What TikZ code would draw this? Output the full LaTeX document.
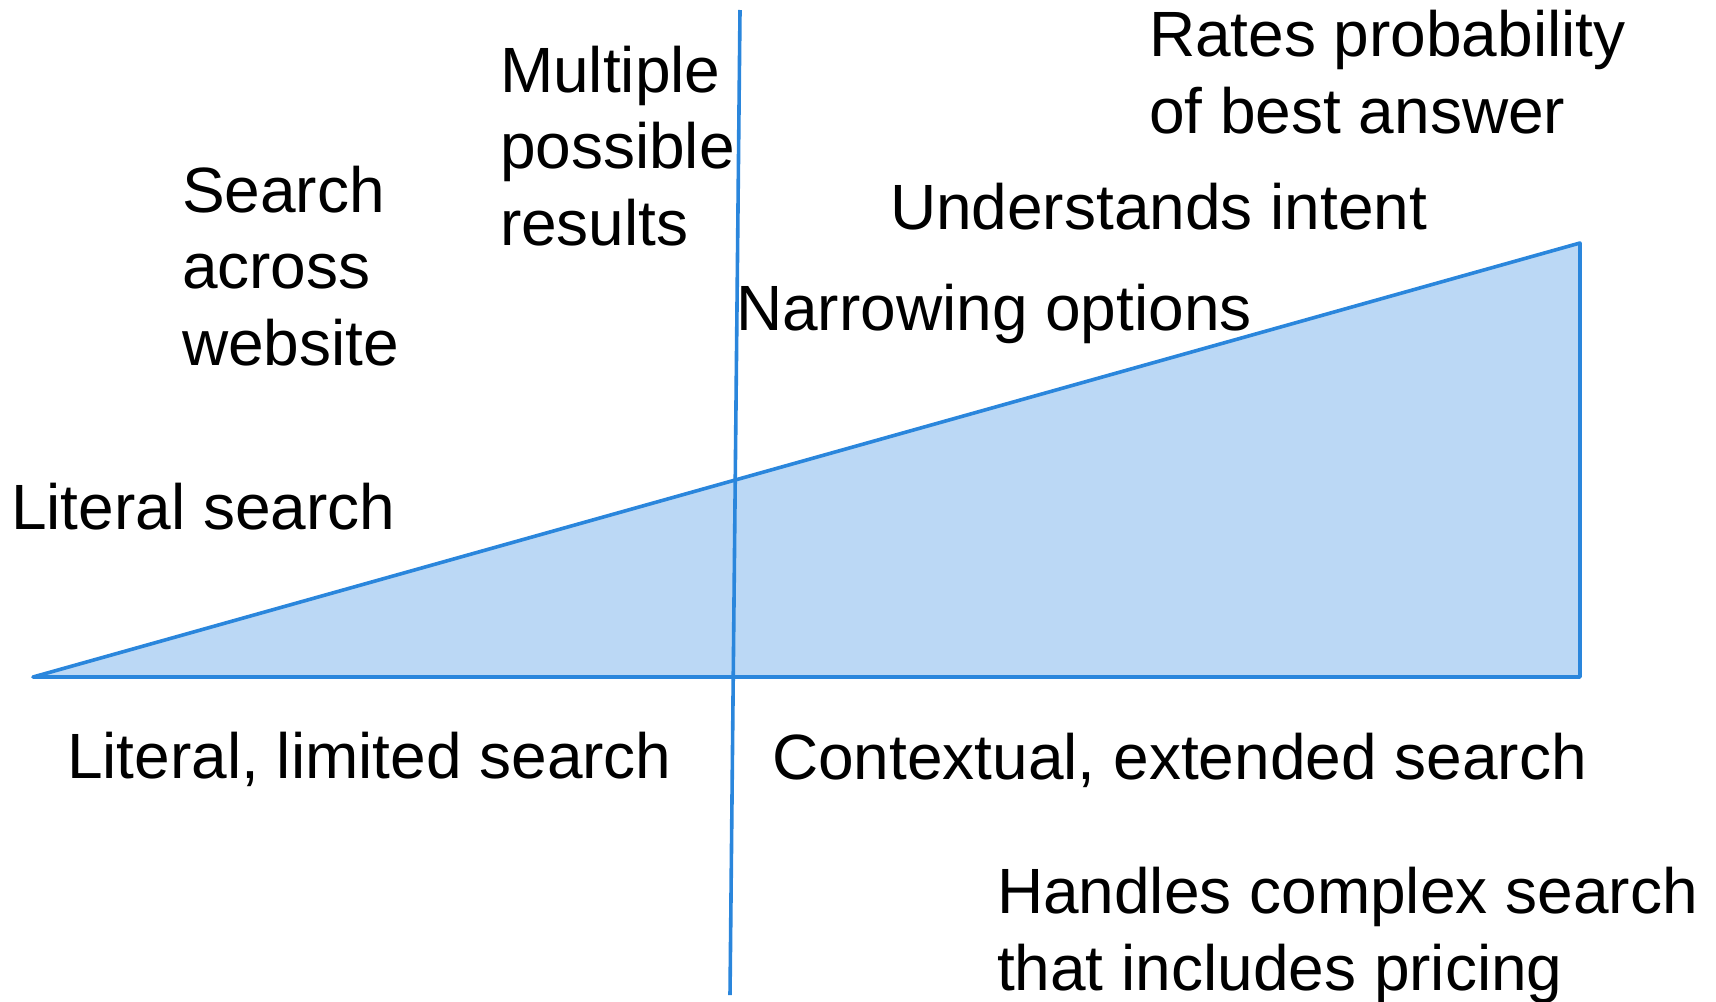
\documentclass[tikz,border=0pt]{standalone}
\usepackage{fontspec}
\setmainfont{Liberation Sans}
\definecolor{lineblue}{RGB}{42,134,220}
\definecolor{fillblue}{RGB}{187,216,245}
\begin{document}
\begin{tikzpicture}[x=0.5pt,y=-0.5pt,
  lbl/.style={anchor=base west, inner sep=0pt, outer sep=0pt,
    font=\fontsize{32pt}{38.25pt}\selectfont, align=left},
  edge/.style={draw=lineblue, line width=1.8pt, line join=round}]
\useasboundingbox (0,0) rectangle (1716,1001);
\coordinate (tip) at (33,677);
\coordinate (br) at (1580,677);
\coordinate (tr) at (1580,243);
\filldraw[edge, fill=fillblue] (tip) -- (br) -- (tr) -- cycle;
\coordinate (vtop) at (740,10);
\coordinate (vbot) at (730,995);
\draw[edge] (vtop) -- (vbot);
\node[lbl] (lit) at (11,529) {Literal search};
\node[lbl] (srch) at (182,365) {Search\\across\\website};
\node[lbl] (mult) at (500,245) {Multiple\\possible\\results};
\node[lbl] (rates) at (1149,133) {Rates probability\\of best answer};
\node[lbl] (under) at (890,229) {Understands intent};
\node[lbl] (narrow) at (736,330) {Narrowing options};
\node[lbl] (litlim) at (67,778) {Literal, limited search};
\node[lbl] (ctx) at (772,779) {Contextual, extended search};
\node[lbl] (hand) at (997,990) {Handles complex search\\that includes pricing};
\end{tikzpicture}
\end{document}
